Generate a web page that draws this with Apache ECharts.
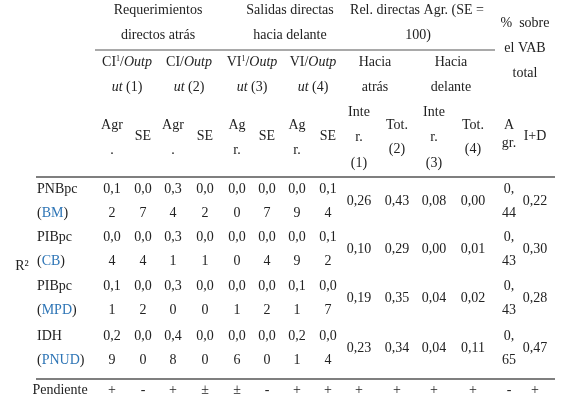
<!DOCTYPE html>
<html lang="es">
<head>
<meta charset="UTF-8">
<title>Tabla R2</title>
<script src="https://cdn.jsdelivr.net/npm/echarts@6/dist/echarts.min.js"></script>
<style>
    *{margin:0;padding:0;}
    html,body{width:100%;height:100%;background:#fff;}
    .main{width:568px;height:406px;}
</style>
</head>
<body>
<div class="main"></div>
<script>
    // data
    let indicators = [['PNBpc', 'BM'], ['PIBpc', 'CB'], ['PIBpc', 'MPD'], ['IDH', 'PNUD']];
    // coeficientes directos (Agr, SE) x 4, se parten en dos lineas
    let direct = [
        ['0,12', '0,07', '0,34', '0,02', '0,00', '0,07', '0,09', '0,14'],
        ['0,04', '0,04', '0,31', '0,01', '0,00', '0,04', '0,09', '0,12'],
        ['0,11', '0,02', '0,30', '0,00', '0,01', '0,02', '0,11', '0,07'],
        ['0,29', '0,00', '0,48', '0,00', '0,06', '0,00', '0,21', '0,04']
    ];
    let relative = [
        ['0,26', '0,43', '0,08', '0,00'],
        ['0,10', '0,29', '0,00', '0,01'],
        ['0,19', '0,35', '0,04', '0,02'],
        ['0,23', '0,34', '0,04', '0,11']
    ];
    let vabAgr = ['0,44', '0,43', '0,43', '0,65'];
    let vabID = ['0,22', '0,30', '0,28', '0,47'];
    let slope = ['+', '-', '+', '±', '±', '-', '+', '+', '+', '+', '+', '+', '-', '+'];

    // layout
    let colX = [112, 143, 173, 205, 237, 267, 297, 328, 359, 397, 434, 473, 509, 535];
    let rowY = [189, 237, 286, 336];
    let lh = 24;
    let fs = 14;
    let font = '"Liberation Serif", "Times New Roman", serif';
    let ink = '#222';
    let blue = '#2e75b6';

    let els = [];
    function txt(x, y, t, opt) {
        opt = opt || {};
        els.push({
            type: 'text', x: x, y: y,
            style: Object.assign({
                text: t, fill: ink, font: fs + 'px ' + font,
                textAlign: opt.align || 'center', textVerticalAlign: 'middle'
            }, opt.style || {})
        });
    }
    function rich(x, y, t, richDef, align) {
        els.push({
            type: 'text', x: x, y: y,
            style: {
                text: t, fill: ink, fontFamily: font, fontSize: fs,
                align: align || 'center', verticalAlign: 'middle', rich: richDef
            }
        });
    }
    function line(x1, x2, y, w) {
        els.push({type: 'line', shape: {x1: x1, y1: y, x2: x2, y2: y}, style: {stroke: '#555', lineWidth: w || 1}});
    }

    // cabecera nivel 1
    txt(158, 10, 'Requerimientos'); txt(158, 35, 'directos atrás');
    txt(290, 10, 'Salidas directas'); txt(290, 35, 'hacia delante');
    txt(417, 10, 'Rel. directas Agr. (SE ='); txt(418, 35, '100)');
    txt(525, 23, '%  sobre'); txt(525, 48, 'el VAB'); txt(525, 73, 'total');
    line(95, 495, 50, 1.2);

    // cabecera nivel 2
    let richH = {
        i: {fontStyle: 'italic', fontFamily: font, fontSize: fs, fill: ink},
        s: {fontSize: 8, fontFamily: font, fill: ink, verticalAlign: 'top', padding: [0, 0, 6, 0]},
        n: {fontFamily: font, fontSize: fs, fill: ink}
    };
    let h2 = [['CI', true], ['CI', false], ['VI', true], ['VI', false]];
    let h2x = [127, 189, 252, 313];
    h2.forEach((h, i) => {
        rich(h2x[i], 62, '{n|' + h[0] + '}' + (h[1] ? '{s|1}' : '') + '{n|/}{i|Outp}', richH);
        rich(h2x[i], 87, '{i|ut}{n| (' + (i + 1) + ')}', richH);
    });
    txt(375, 62, 'Hacia'); txt(375, 87, 'atrás');
    txt(451, 62, 'Hacia'); txt(451, 87, 'delante');

    // cabecera nivel 3
    let sub = [['Agr', '.'], ['Agr', '.'], ['Ag', 'r.'], ['Ag', 'r.']];
    sub.forEach((s, i) => {
        txt(colX[i * 2], 125, s[0]); txt(colX[i * 2], 150, s[1]);
        txt(colX[i * 2 + 1], 136, 'SE');
    });
    [8, 10].forEach((c, k) => {
        txt(colX[c], 112, 'Inte'); txt(colX[c], 137, 'r.'); txt(colX[c], 163, '(' + (k * 2 + 1) + ')');
        txt(colX[c + 1], 125, 'Tot.'); txt(colX[c + 1], 149, '(' + (k * 2 + 2) + ')');
    });
    txt(colX[12], 125, 'A'); txt(colX[12], 143, 'gr.');
    txt(colX[13], 136, 'I+D');
    line(36, 555, 177, 1.5);

    // cuerpo
    txt(22, 266, 'R²');
    indicators.forEach((ind, r) => {
        let y = rowY[r];
        txt(37, y, ind[0], {align: 'left'});
        rich(37, y + lh, '{n|(}{b|' + ind[1] + '}{n|)}', {
            n: {fontFamily: font, fontSize: fs, fill: ink},
            b: {fontFamily: font, fontSize: fs, fill: blue}
        }, 'left');
        direct[r].forEach((v, c) => {
            txt(colX[c], y, v.slice(0, 3));
            txt(colX[c], y + lh, v.slice(3));
        });
        relative[r].forEach((v, c) => txt(colX[8 + c], y + lh / 2, v));
        txt(colX[12], y, vabAgr[r].slice(0, 2));
        txt(colX[12], y + lh, vabAgr[r].slice(2));
        txt(colX[13], y + lh / 2, vabID[r]);
    });
    line(36, 555, 379, 1.5);
    txt(60, 390, 'Pendiente');
    slope.forEach((s, c) => txt(colX[c], 390, s));

    let main = echarts.init(document.getElementsByClassName('main')[0]);
    main.setOption({graphic: {elements: els}});
</script>
</body>
</html>
